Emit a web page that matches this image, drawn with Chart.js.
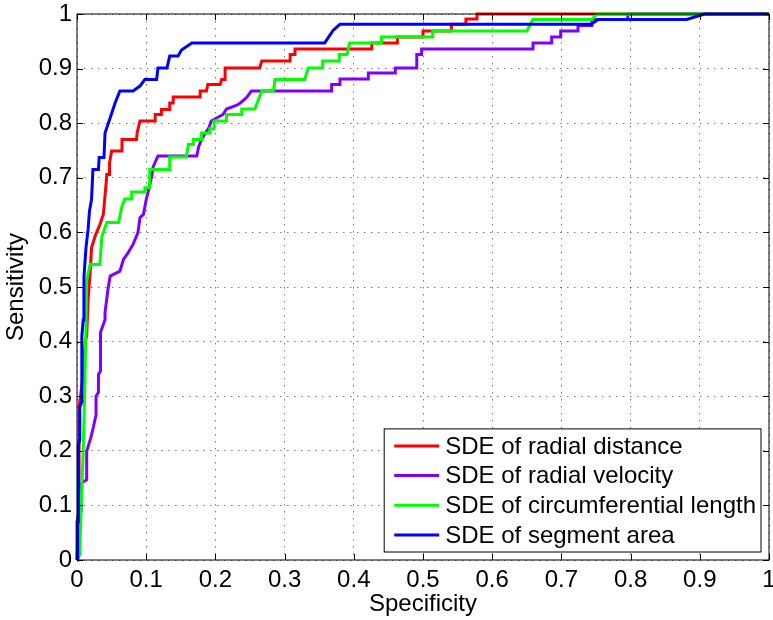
<!DOCTYPE html>
<html>
<head>
<meta charset="utf-8">
<script src="https://cdn.jsdelivr.net/npm/chart.js@4.4.1/dist/chart.umd.min.js"></script>
<style>
  html, body { margin: 0; padding: 0; background: #fff; }
  #wrap { width: 773px; height: 620px; }
</style>
</head>
<body>
<div id="wrap"><canvas id="roc"></canvas></div>
<script>
const seriesLabels = [
    'SDE of radial distance',
    'SDE of radial velocity',
    'SDE of circumferential length',
    'SDE of segment area'
];
const tickLabels = ['0', '0.1', '0.2', '0.3', '0.4', '0.5', '0.6', '0.7', '0.8', '0.9', '1'];

// ROC curves (specificity axis, sensitivity)
const distanceX = [0, 0, 0.003, 0.003, 0.008, 0.012, 0.014, 0.016, 0.019, 0.021,
    0.027, 0.033, 0.038, 0.040, 0.043, 0.043, 0.047, 0.047, 0.050, 0.065,
    0.065, 0.086, 0.087, 0.091, 0.113, 0.113, 0.122, 0.122, 0.134, 0.134,
    0.139, 0.139, 0.178, 0.178, 0.187, 0.189, 0.207, 0.209, 0.214, 0.214,
    0.264, 0.267, 0.308, 0.308, 0.315, 0.315, 0.426, 0.426, 0.463, 0.463,
    0.500, 0.500, 0.541, 0.541, 0.562, 0.562, 0.578, 0.578, 1];
const distanceY = [0, 0.07, 0.09, 0.28, 0.33, 0.40, 0.41, 0.477, 0.526, 0.572,
    0.596, 0.614, 0.633, 0.66, 0.703, 0.706, 0.706, 0.727, 0.749, 0.749,
    0.77, 0.77, 0.783, 0.804, 0.804, 0.816, 0.816, 0.825, 0.825, 0.837,
    0.837, 0.848, 0.848, 0.859, 0.859, 0.871, 0.871, 0.88, 0.88, 0.901,
    0.901, 0.914, 0.914, 0.926, 0.926, 0.936, 0.936, 0.947, 0.947, 0.958,
    0.958, 0.969, 0.969, 0.981, 0.981, 0.991, 0.991, 1, 1];

const velocityX = [0, 0.002, 0.004, 0.006, 0.006, 0.010, 0.014, 0.014, 0.020, 0.024,
    0.0275, 0.0275, 0.031, 0.031, 0.034, 0.034, 0.0405, 0.0405, 0.045, 0.048,
    0.062, 0.067, 0.074, 0.081, 0.088, 0.091, 0.096, 0.100, 0.103, 0.108,
    0.110, 0.117, 0.173, 0.176, 0.180, 0.186, 0.190, 0.194, 0.211, 0.216,
    0.231, 0.236, 0.245, 0.252, 0.368, 0.368, 0.380, 0.380, 0.421, 0.421,
    0.460, 0.460, 0.491, 0.491, 0.498, 0.498, 0.659, 0.659, 0.686, 0.686,
    0.699, 0.699, 0.724, 0.724, 0.744, 0.744, 0.796, 0.796, 1];
const velocityY = [0, 0.068, 0.087, 0.089, 0.14, 0.144, 0.147, 0.199, 0.224, 0.245,
    0.266, 0.30, 0.307, 0.34, 0.346, 0.417, 0.44, 0.453, 0.498, 0.52,
    0.529, 0.55, 0.563, 0.578, 0.599, 0.627, 0.633, 0.66, 0.675, 0.703,
    0.72, 0.74, 0.74, 0.758, 0.77, 0.783, 0.79, 0.804, 0.816, 0.826,
    0.833, 0.837, 0.847, 0.859, 0.859, 0.871, 0.871, 0.881, 0.881, 0.892,
    0.892, 0.901, 0.901, 0.926, 0.926, 0.936, 0.936, 0.947, 0.947, 0.958,
    0.958, 0.969, 0.969, 0.979, 0.979, 0.99, 0.99, 1, 1];

const lengthX = [0, 0.004, 0.006, 0.009, 0.011, 0.013, 0.014, 0.019, 0.033, 0.036,
    0.043, 0.060, 0.065, 0.069, 0.079, 0.079, 0.098, 0.098, 0.105, 0.105,
    0.134, 0.134, 0.158, 0.161, 0.168, 0.168, 0.180, 0.180, 0.192, 0.192,
    0.198, 0.198, 0.216, 0.216, 0.238, 0.238, 0.257, 0.267, 0.284, 0.286,
    0.329, 0.334, 0.355, 0.355, 0.379, 0.379, 0.390, 0.394, 0.440, 0.440,
    0.514, 0.514, 0.650, 0.659, 0.744, 0.751, 1];
const lengthY = [0, 0.01, 0.10, 0.20, 0.30, 0.43, 0.514, 0.541, 0.541, 0.593,
    0.618, 0.618, 0.648, 0.661, 0.661, 0.674, 0.674, 0.682, 0.682, 0.715,
    0.715, 0.738, 0.738, 0.761, 0.761, 0.77, 0.77, 0.782, 0.782, 0.79,
    0.79, 0.804, 0.804, 0.816, 0.816, 0.826, 0.826, 0.859, 0.859, 0.88,
    0.88, 0.901, 0.901, 0.914, 0.914, 0.926, 0.926, 0.947, 0.947, 0.958,
    0.958, 0.969, 0.969, 0.99, 0.99, 1, 1];

const areaX = [0, 0.001, 0.002, 0.002, 0.004, 0.004, 0.007, 0.007, 0.009, 0.010,
    0.013, 0.016, 0.018, 0.021, 0.023, 0.031, 0.032, 0.039, 0.0405, 0.048,
    0.055, 0.062, 0.081, 0.091, 0.098, 0.115, 0.117, 0.130, 0.134, 0.146,
    0.151, 0.166, 0.358, 0.370, 0.380, 0.743, 0.753, 0.881, 0.907, 1];
const areaY = [0, 0.07, 0.07, 0.21, 0.22, 0.28, 0.29, 0.41, 0.44, 0.517,
    0.572, 0.605, 0.639, 0.66, 0.715, 0.715, 0.737, 0.737, 0.782, 0.81,
    0.837, 0.859, 0.859, 0.868, 0.88, 0.88, 0.901, 0.901, 0.923, 0.923,
    0.934, 0.947, 0.947, 0.97, 0.981, 0.981, 0.99, 0.99, 1, 1];

const FONT = "'Liberation Sans', Arial, Helvetica, sans-serif";

function toPoints(xs, ys) {
    return xs.map((x, i) => ({ x: x, y: ys[i] }));
}

function curve(label, xs, ys, color, order) {
    return {
        label: label,
        data: toPoints(xs, ys),
        borderColor: color,
        backgroundColor: color,
        borderWidth: 3,
        pointRadius: 0,
        tension: 0,
        fill: false,
        clip: 4,
        order: order
    };
}

// box round the plot, inward ticks and the legend, MATLAB style
const framePlugin = {
    id: 'frame',
    afterDatasetsDraw(chart) {
        const { ctx, chartArea: a, scales } = chart;
        ctx.save();
        ctx.strokeStyle = '#000';
        ctx.lineWidth = 1;
        ctx.strokeRect(a.left, a.top, a.width, a.height);
        ctx.beginPath();
        scales.x.ticks.forEach(t => {
            const px = Math.round(scales.x.getPixelForValue(t.value)) + 0.5;
            ctx.moveTo(px, a.bottom); ctx.lineTo(px, a.bottom - 6);
            ctx.moveTo(px, a.top); ctx.lineTo(px, a.top + 6);
        });
        scales.y.ticks.forEach(t => {
            const py = Math.round(scales.y.getPixelForValue(t.value)) + 0.5;
            ctx.moveTo(a.left, py); ctx.lineTo(a.left + 6, py);
            ctx.moveTo(a.right, py); ctx.lineTo(a.right - 6, py);
        });
        ctx.stroke();

        // legend
        const sets = chart.data.datasets;
        ctx.font = '24px ' + FONT;
        const textW = Math.max(...sets.map(d => ctx.measureText(d.label).width));
        const rowH = 29.7;
        const right = a.right - 8;
        const bottom = a.bottom - 8;
        const boxH = rowH * (sets.length - 1) + 34;
        const boxW = textW + 66;
        const left = right - boxW;
        const top = bottom - boxH;
        ctx.fillStyle = '#fff';
        ctx.fillRect(left, top, boxW, boxH);
        ctx.strokeRect(left, top, boxW, boxH);
        ctx.textBaseline = 'middle';
        ctx.textAlign = 'left';
        sets.forEach((d, i) => {
            const cy = top + 17 + i * rowH;
            ctx.strokeStyle = d.borderColor;
            ctx.lineWidth = 3;
            ctx.beginPath();
            ctx.moveTo(left + 10, cy);
            ctx.lineTo(left + 55, cy);
            ctx.stroke();
            ctx.fillStyle = '#000';
            ctx.fillText(d.label, left + 61, cy + 1);
        });
        ctx.restore();
    }
};

const gridStyle = { color: 'rgba(0,0,0,0.5)', lineWidth: 1, drawTicks: false };
const borderStyle = { display: false, dash: [1.5, 5.5] };

new Chart(document.getElementById('roc'), {
    type: 'line',
    data: {
        datasets: [
            curve(seriesLabels[0], distanceX, distanceY, '#ff0000', 3),
            curve(seriesLabels[1], velocityX, velocityY, '#8000ff', 2),
            curve(seriesLabels[2], lengthX, lengthY, '#00ff00', 1),
            curve(seriesLabels[3], areaX, areaY, '#0000ff', 0)
        ]
    },
    options: {
        responsive: true,
        maintainAspectRatio: false,
        animation: false,
        layout: { padding: { top: 14, right: 4, left: 0, bottom: 0 } },
        plugins: {
            legend: { display: false },
            tooltip: { enabled: false }
        },
        scales: {
            x: {
                type: 'linear',
                min: 0,
                max: 1,
                grid: gridStyle,
                border: borderStyle,
                ticks: {
                    stepSize: 0.1,
                    autoSkip: false,
                    maxRotation: 0,
                    padding: 6,
                    color: '#000',
                    font: { family: FONT, size: 24 },
                    callback: (v, i) => tickLabels[i]
                },
                title: {
                    display: true,
                    text: 'Specificity',
                    color: '#000',
                    font: { family: FONT, size: 24 },
                    padding: { top: 0, bottom: 1 }
                },
                afterFit(scale) {
                    scale.height = 60;
                    scale.paddingLeft = 0;
                    scale.paddingRight = 0;
                }
            },
            y: {
                type: 'linear',
                min: 0,
                max: 1,
                grid: gridStyle,
                border: borderStyle,
                ticks: {
                    stepSize: 0.1,
                    autoSkip: false,
                    padding: 5,
                    color: '#000',
                    font: { family: FONT, size: 24 },
                    callback: (v, i) => tickLabels[i]
                },
                title: {
                    display: true,
                    text: 'Sensitivity',
                    color: '#000',
                    font: { family: FONT, size: 24 },
                    padding: { top: 2, bottom: 0 }
                },
                afterFit(scale) {
                    scale.width = 77;
                    scale.paddingTop = 0;
                    scale.paddingBottom = 0;
                }
            }
        }
    },
    plugins: [framePlugin]
});
</script>
</body>
</html>
